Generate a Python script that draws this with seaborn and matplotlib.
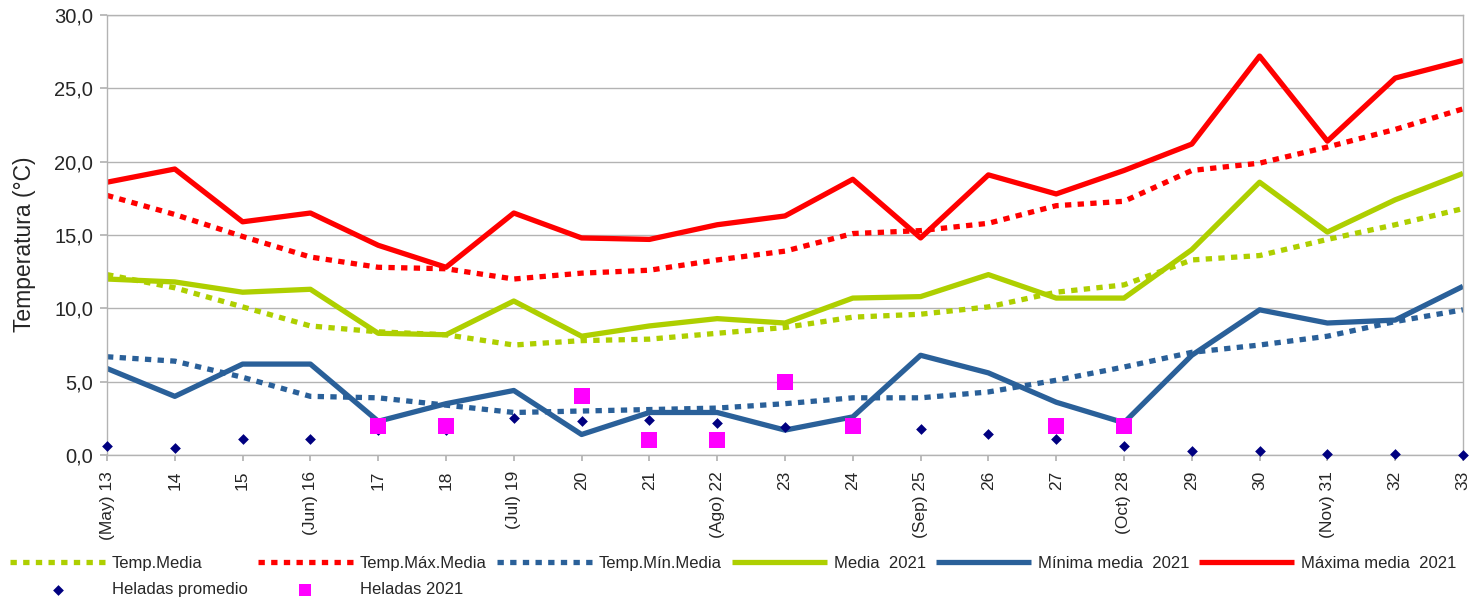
import matplotlib
matplotlib.use('Agg')
import matplotlib.pyplot as plt
import seaborn as sns
from matplotlib.ticker import FuncFormatter

sns.set_theme(style='white')
plt.rcParams['font.family'] = ['Liberation Sans', 'DejaVu Sans']

# semanas
semanas = list(range(13, 34))
etiquetas = ['(May) 13', '14', '15', '(Jun) 16', '17', '18', '(Jul) 19', '20', '21',
             '(Ago) 22', '23', '24', '(Sep) 25', '26', '27', '(Oct) 28', '29', '30',
             '(Nov) 31', '32', '33']

temp_media = [12.3, 11.4, 10.1, 8.8, 8.4, 8.2, 7.5, 7.8, 7.9, 8.3, 8.7, 9.4, 9.6,
              10.1, 11.1, 11.6, 13.3, 13.6, 14.7, 15.7, 16.8]
temp_max_media = [17.7, 16.4, 14.9, 13.5, 12.8, 12.7, 12.0, 12.4, 12.6, 13.3, 13.9,
                  15.1, 15.3, 15.8, 17.0, 17.3, 19.4, 19.9, 21.0, 22.2, 23.6]
temp_min_media = [6.7, 6.4, 5.3, 4.0, 3.9, 3.4, 2.9, 3.0, 3.1, 3.2, 3.5, 3.9, 3.9,
                  4.3, 5.1, 6.0, 7.0, 7.5, 8.1, 9.1, 9.9]
media_2021 = [12.0, 11.8, 11.1, 11.3, 8.3, 8.2, 10.5, 8.1, 8.8, 9.3, 9.0, 10.7, 10.8,
              12.3, 10.7, 10.7, 14.0, 18.6, 15.2, 17.4, 19.2]
minima_2021 = [5.9, 4.0, 6.2, 6.2, 2.3, 3.5, 4.4, 1.4, 2.9, 2.9, 1.7, 2.6, 6.8,
               5.6, 3.6, 2.2, 6.8, 9.9, 9.0, 9.2, 11.5]
maxima_2021 = [18.6, 19.5, 15.9, 16.5, 14.3, 12.8, 16.5, 14.8, 14.7, 15.7, 16.3, 18.8,
               14.8, 19.1, 17.8, 19.4, 21.2, 27.2, 21.4, 25.7, 26.9]
heladas_promedio = [0.6, 0.5, 1.1, 1.1, 1.7, 1.7, 2.5, 2.3, 2.4, 2.2, 1.9, 2.0, 1.8,
                    1.4, 1.1, 0.6, 0.3, 0.3, 0.1, 0.1, 0.0]
semanas_heladas = [17, 18, 20, 21, 22, 23, 24, 27, 28]
heladas_2021 = [2, 2, 4, 1, 1, 5, 2, 2, 2]

verde = '#aecf00'
rojo = '#ff0000'
azul = '#2a6099'
punteado = (0, (1.2, 1.2))

fig, ax = plt.subplots(figsize=(14.8, 5.98), dpi=100)
fig.subplots_adjust(left=0.0723, right=0.9885, top=0.9749, bottom=0.2391)

sns.lineplot(x=semanas, y=temp_media, ax=ax, color=verde, lw=3.8, linestyle=punteado, label='Temp.Media')
sns.lineplot(x=semanas, y=temp_max_media, ax=ax, color=rojo, lw=3.8, linestyle=punteado, label='Temp.Máx.Media')
sns.lineplot(x=semanas, y=temp_min_media, ax=ax, color=azul, lw=3.8, linestyle=punteado, label='Temp.Mín.Media')
sns.lineplot(x=semanas, y=media_2021, ax=ax, color=verde, lw=3.8, solid_capstyle='butt', label='Media  2021')
sns.lineplot(x=semanas, y=minima_2021, ax=ax, color=azul, lw=3.8, solid_capstyle='butt', label='Mínima media  2021')
sns.lineplot(x=semanas, y=maxima_2021, ax=ax, color=rojo, lw=3.8, solid_capstyle='butt', label='Máxima media  2021')
sns.scatterplot(x=semanas, y=heladas_promedio, ax=ax, color='#000080', marker='D', s=30,
                linewidth=0, label='Heladas promedio', zorder=5, clip_on=False)
sns.scatterplot(x=semanas_heladas, y=heladas_2021, ax=ax, color='#ff00ff', marker='s', s=120,
                linewidth=0, label='Heladas 2021', zorder=6, clip_on=False)

ax.set_xlim(13, 33)
ax.set_ylim(0, 30)
ax.set_xticks(semanas)
ax.set_xticklabels(etiquetas, rotation=90, fontsize=12.5)
ax.set_yticks(range(0, 31, 5))
ax.yaxis.set_major_formatter(FuncFormatter(lambda v, p: f'{v:.1f}'.replace('.', ',')))
ax.tick_params(axis='y', labelsize=14.5, length=5, color='#b3b3b3', pad=5, left=True)
ax.tick_params(axis='x', length=4.5, color='#b3b3b3', pad=7, bottom=True)
ax.yaxis.grid(True, color='#b3b3b3', lw=1)
ax.set_axisbelow(True)
for s in ax.spines.values():
    s.set_color('#b3b3b3')
    s.set_linewidth(1)
ax.set_ylabel('Temperatura (°C)', fontsize=16.5)
ax.yaxis.set_label_coords(-0.052, 0.48)
ax.set_xlabel('')

handles, labels = ax.get_legend_handles_labels()
ax.get_legend().remove()
orden = [0, 6, 1, 7, 2, 3, 4, 5]
leg = fig.legend([handles[i] for i in orden], [labels[i] for i in orden], ncol=6,
                 loc='upper left', bbox_to_anchor=(0.0068, 0.071), frameon=False,
                 fontsize=12, handlelength=5.7, handletextpad=0.42, columnspacing=0.6,
                 labelspacing=0.68, borderpad=0, borderaxespad=0)
leg.legend_handles[3].set_sizes([70])

fig.savefig('out.png', dpi=100)
